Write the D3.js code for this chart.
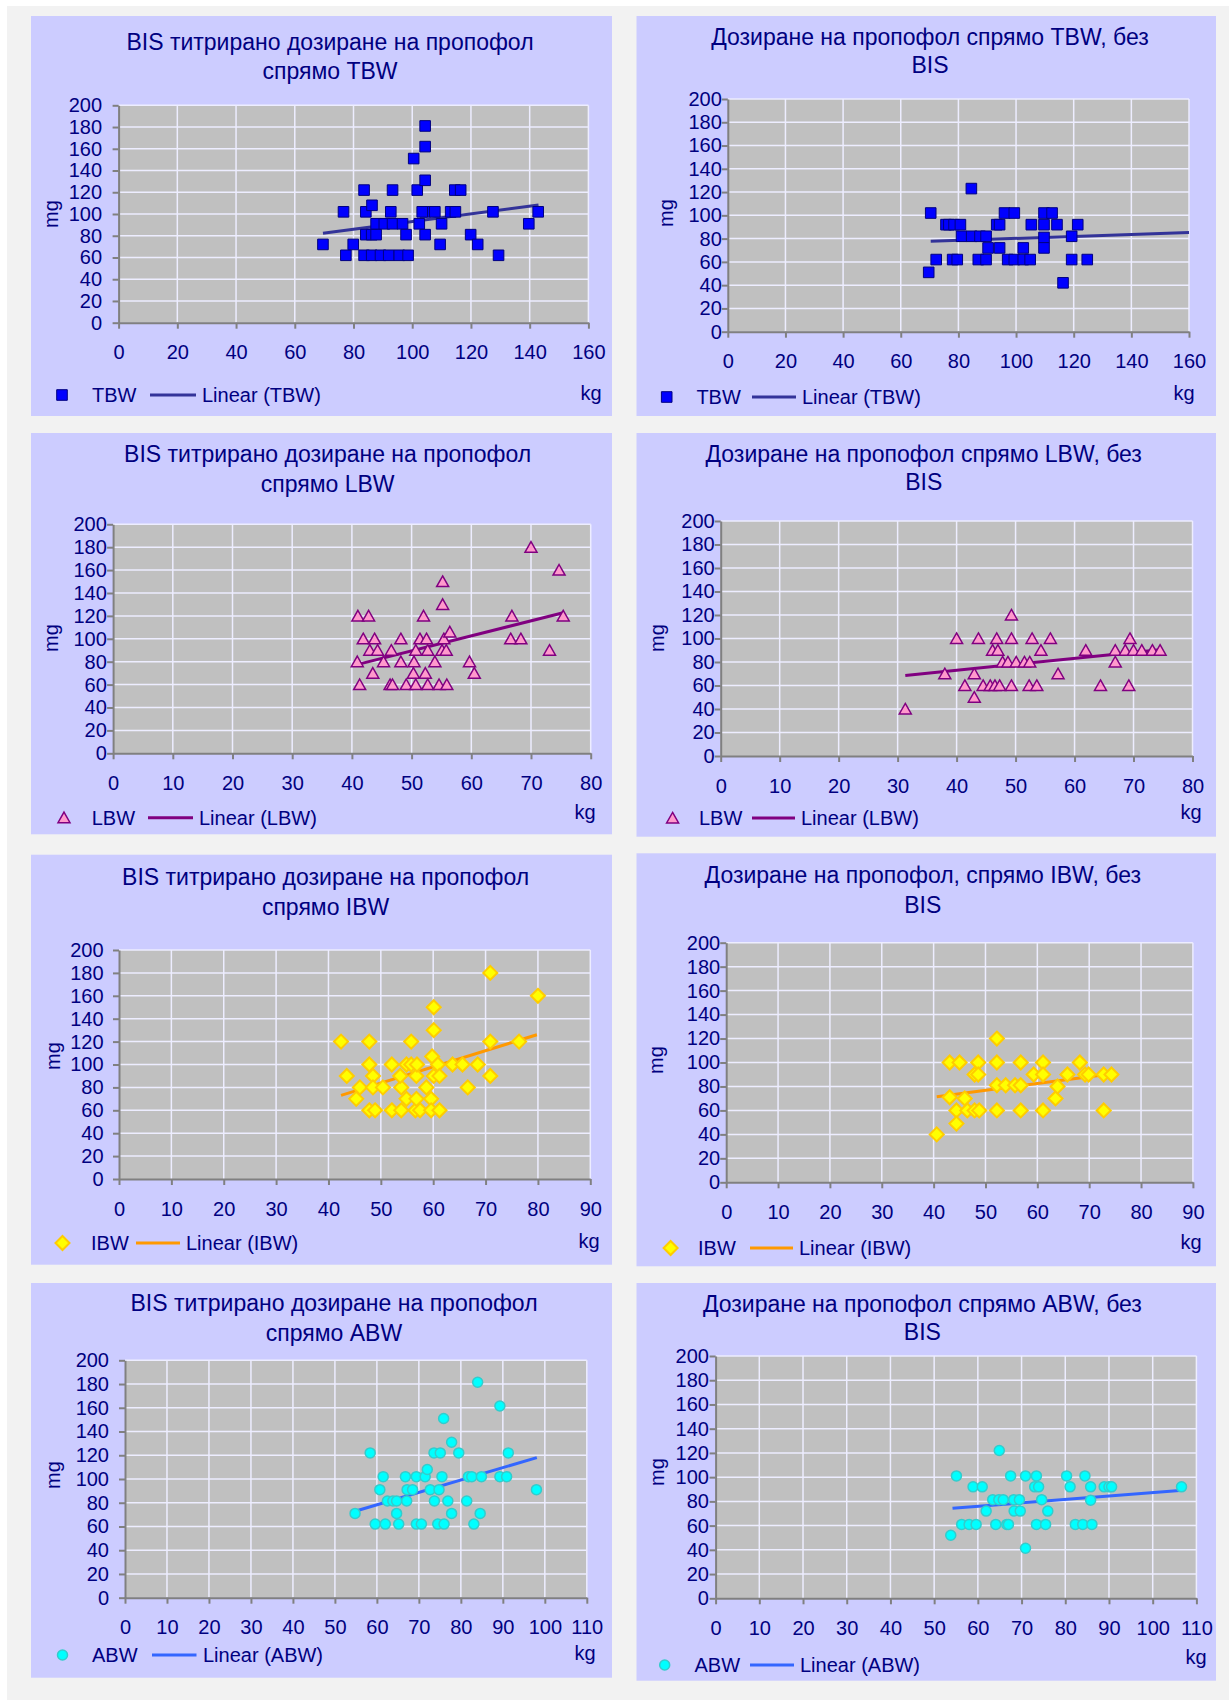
<!DOCTYPE html>
<html>
<head>
<meta charset="utf-8">
<script src="https://cdnjs.cloudflare.com/ajax/libs/d3/7.8.5/d3.min.js"></script>
<style>
  body { margin: 0; background: #ffffff; }
  svg text { font-family: "Liberation Sans", Arial, sans-serif; fill: #000080; }
</style>
</head>
<body>
<svg id="chart" width="1229" height="1700"></svg>
<script>
// ---- axis ticks ----
const doseTicks = [0, 20, 40, 60, 80, 100, 120, 140, 160, 180, 200];
const tbwTicks = [0, 20, 40, 60, 80, 100, 120, 140, 160];
const lbwTicks = [0, 10, 20, 30, 40, 50, 60, 70, 80];
const ibwTicks = [0, 10, 20, 30, 40, 50, 60, 70, 80, 90];
const abwTicks = [0, 10, 20, 30, 40, 50, 60, 70, 80, 90, 100, 110];

// ---- titles ----
const titlesBis = [
  ["BIS титрирано дозиране на пропофол", "спрямо TBW"],
  ["BIS титрирано дозиране на пропофол", "спрямо LBW"],
  ["BIS титрирано дозиране на пропофол", "спрямо IBW"],
  ["BIS титрирано дозиране на пропофол", "спрямо ABW"]
];
const titlesNoBis = [
  ["Дозиране на пропофол спрямо TBW, без", "BIS"],
  ["Дозиране на пропофол спрямо LBW, без", "BIS"],
  ["Дозиране на пропофол, спрямо IBW, без", "BIS"],
  ["Дозиране на пропофол спрямо ABW, без", "BIS"]
];
const seriesNames = ["TBW", "LBW", "IBW", "ABW"];

// ---- TBW, BIS titrated (kg, mg) ----
const tbwBisX = [69.6, 76.6, 77.4, 79.9, 83.6, 84.2, 83.6, 84.2, 86.2, 86.3, 87.7, 87.7, 86.2, 89.2, 90.5,
  92.0, 92.7, 93.3, 93.3, 95.6, 96.7, 97.9, 98.6, 100.5, 101.7, 102.4, 104.4, 104.4, 104.4, 104.4,
  103.4, 104.4, 107.7, 110.0, 109.5, 113.1, 114.7, 114.5, 116.5, 119.9, 122.3, 127.5, 129.4, 139.7, 142.9];
const tbwBisY = [72, 102, 62, 72, 122, 102, 62, 81, 81, 108, 81, 91, 62, 62, 91,
  62, 102, 122, 91, 62, 91, 81, 62, 151, 122, 91, 181, 162, 131, 102,
  102, 81, 102, 91, 72, 102, 102, 122, 122, 81, 72, 102, 62, 91, 102];
const tbwBisTrendX = [69.6, 143];
const tbwBisTrendY = [82.2, 108.3];

// ---- TBW, without BIS ----
const tbwNoBisX = [69.7, 70.4, 72.3, 75.7, 76.7, 78.0, 78.5, 79.6, 80.7, 81.1, 84.5, 84.6, 86.9, 87.5, 89.6,
  89.6, 90.3, 93.3, 94.3, 94.3, 96.0, 97.1, 99.4, 99.4, 102.5, 102.5, 104.9, 105.3, 109.7, 109.7,
  109.7, 109.7, 112.5, 114.2, 116.3, 119.3, 119.3, 121.4, 124.7];
const tbwNoBisY = [51, 102, 62, 92, 92, 62, 92, 62, 92, 82, 123, 82, 62, 82, 82,
  62, 72, 92, 92, 72, 102, 62, 102, 62, 72, 62, 62, 92, 102, 92,
  81, 72, 102, 92, 42, 82, 62, 92, 62];
const tbwNoBisTrendX = [70.4, 160];
const tbwNoBisTrendY = [77.7, 85.3];

// ---- LBW, BIS titrated ----
const lbwBisX = [41.0, 42.8, 40.9, 41.3, 41.9, 43.8, 43.0, 44.3, 43.5, 45.3, 46.6, 46.4, 46.8, 48.2, 48.2,
  49.1, 50.3, 50.4, 50.7, 50.7, 51.4, 52.0, 52.5, 52.3, 52.7, 52.7, 53.9, 54.6, 55.2, 55.2,
  55.4, 55.1, 55.8, 55.9, 56.4, 59.7, 60.5, 66.8, 66.6, 68.3, 70.0, 73.1, 74.7, 75.4];
const lbwBisY = [120, 120, 80, 60, 100, 100, 90, 90, 70, 80, 90, 60, 60, 100, 80,
  60, 70, 80, 90, 60, 100, 120, 100, 70, 90, 60, 80, 60, 150, 130,
  100, 90, 90, 60, 106, 80, 70, 120, 100, 100, 180, 90, 160, 120];
const lbwBisTrendX = [41.0, 75.4];
const lbwBisTrendY = [77.7, 122.8];

// ---- LBW, without BIS ----
const lbwNoBisX = [31.3, 38.0, 40.0, 41.4, 43.0, 43.0, 43.7, 44.5, 45.7, 46.1, 46.5, 46.8, 47.0, 47.3, 47.8,
  48.7, 49.3, 49.3, 49.3, 50.1, 51.5, 52.4, 52.3, 52.8, 53.6, 54.3, 55.9, 57.2, 61.9, 64.4,
  66.9, 66.9, 68.6, 69.2, 69.4, 70.0, 71.4, 73.2, 74.5];
const lbwNoBisY = [40, 70, 100, 60, 70, 50, 100, 60, 60, 90, 60, 100, 90, 60, 80,
  80, 120, 100, 60, 80, 80, 80, 60, 100, 60, 90, 100, 70, 90, 60,
  90, 80, 90, 60, 100, 90, 90, 90, 90];
const lbwNoBisTrendX = [31.3, 74.5];
const lbwNoBisTrendY = [68.5, 90.5];

// ---- IBW, BIS titrated ----
const ibwBisX = [42.4, 43.5, 45.3, 46.0, 47.8, 47.8, 47.8, 48.5, 48.5, 48.9, 50.4, 52.1, 52.1, 53.9, 53.9,
  53.7, 54.9, 54.9, 55.8, 55.8, 56.6, 56.8, 56.8, 56.9, 57.5, 58.7, 59.6, 59.6, 59.8, 60.1,
  60.1, 60.1, 60.9, 61.2, 61.2, 63.7, 65.6, 66.6, 68.5, 70.9, 70.9, 70.9, 76.4, 80.0];
const ibwBisY = [120, 90, 70, 80, 120, 100, 60, 90, 80, 60, 80, 100, 60, 80, 60,
  90, 100, 70, 120, 100, 60, 90, 70, 100, 60, 80, 70, 60, 107, 150,
  130, 90, 100, 90, 60, 100, 100, 80, 100, 180, 120, 90, 120, 160];
const ibwBisTrendX = [42.4, 79.8];
const ibwBisTrendY = [73, 126];

// ---- IBW, without BIS ----
const ibwNoBisX = [40.6, 43.1, 43.1, 44.4, 44.4, 45.0, 46.0, 46.5, 47.9, 47.9, 48.6, 48.6, 48.8, 52.2, 52.2,
  52.2, 52.2, 53.9, 55.7, 56.8, 56.8, 56.8, 59.3, 61.1, 61.1, 61.1, 63.5, 63.9, 65.8, 68.2,
  69.2, 69.9, 72.8, 72.8, 74.3];
const ibwNoBisY = [40, 100, 71, 60, 49, 100, 70, 60, 60, 90, 100, 90, 60, 120, 100,
  81, 60, 81, 81, 100, 81, 60, 90, 100, 90, 60, 70, 80, 90, 100,
  90, 90, 90, 60, 90];
const ibwNoBisTrendX = [40.6, 74.1];
const ibwNoBisTrendY = [71.5, 90.4];

// ---- ABW, BIS titrated ----
const abwBisX = [54.8, 58.4, 59.6, 60.7, 61.5, 62.0, 62.5, 63.8, 64.7, 64.7, 65.2, 66.8, 67.1, 67.2, 68.5,
  69.4, 69.4, 70.6, 71.5, 72.0, 72.7, 73.6, 73.7, 74.5, 74.8, 75.1, 75.5, 75.9, 76.0, 76.9,
  77.8, 77.8, 79.5, 81.4, 81.8, 82.6, 83.1, 84.0, 84.6, 84.9, 89.3, 89.3, 90.9, 91.3, 98.0];
const abwBisY = [71, 122, 62, 91, 102, 62, 81.5, 81.5, 81.5, 71, 62, 102, 81.5, 91, 91,
  102, 62, 62, 102, 108, 91, 122, 81.5, 62, 91, 122, 102, 151, 62, 81.5,
  131, 71, 122, 81.5, 102, 102, 62, 181.5, 71, 102, 161.5, 102, 102, 122, 91];
const abwBisTrendX = [55.0, 98.1];
const abwBisTrendY = [73, 118];

// ---- ABW, without BIS ----
const abwNoBisX = [53.8, 55.1, 56.3, 58.0, 58.9, 59.6, 61.0, 61.9, 63.4, 64.1, 64.8, 64.9, 65.8, 66.6, 67.0,
  67.5, 68.2, 68.3, 69.5, 69.7, 70.9, 70.9, 73.0, 73.4, 73.4, 73.9, 74.6, 75.5, 76.0, 80.3,
  81.1, 82.3, 84.0, 84.5, 85.8, 85.8, 86.1, 88.9, 90.0, 90.6, 106.6];
const abwNoBisY = [52, 101, 61, 61, 92, 61, 92, 72, 81.4, 61, 81.4, 122, 81.4, 61, 61,
  101, 81.4, 72, 81.4, 72, 101, 41.3, 92, 101, 61, 92, 81.4, 61, 72, 101,
  92, 61, 61, 101, 92, 81, 61, 92, 92, 92, 92];
const abwNoBisTrendX = [54.2, 106.9];
const abwNoBisTrendY = [74.3, 89.1];

// ---- marker / line styles per series ----
const styles = {
  TBW: { shape: "square",   fill: "#0000ff", stroke: "#000080", sw: 1,   line: "#333399" },
  LBW: { shape: "triangle", fill: "#ff99cc", stroke: "#800080", sw: 1.5, line: "#800080" },
  IBW: { shape: "diamond",  fill: "#ffff00", stroke: "#ffcc00", sw: 2,   line: "#ff9900" },
  ABW: { shape: "circle",   fill: "#00ffff", stroke: "#33cccc", sw: 1.5, line: "#3366ff" }
};
const shapePaths = {
  square: "M-5.3,-5.3H5.3V5.3H-5.3Z",
  triangle: "M0,-5.6L6,5L-6,5Z",
  diamond: "M0,-7L7,0L0,7L-7,0Z",
  circle: "M5,0A5,5 0 1,1 -5,0A5,5 0 1,1 5,0Z"
};

// ---- panel layout (pixels) ----
const panels = [
  { name: "TBW", title: titlesBis[0], xs: tbwBisX, ys: tbwBisY, tx: tbwBisTrendX, ty: tbwBisTrendY, xt: tbwTicks,
    box: [31, 16, 612, 416], plot: [118.6, 105.3, 588.4, 322.7], titleX: 330, titleY: [41.7, 71],
    yPad: 10.6, mg: [51.4, 214], legY: 395, leg: [62, 92, 150, 196, 202], kg: [591, 393] },
  { name: "TBW", title: titlesNoBis[0], xs: tbwNoBisX, ys: tbwNoBisY, tx: tbwNoBisTrendX, ty: tbwNoBisTrendY, xt: tbwTicks,
    box: [636.5, 16, 1216, 416], plot: [727.8, 99, 1189, 331.7], titleX: 930, titleY: [36.7, 65],
    yPad: 0, mg: [666, 213], legY: 397, leg: [666.7, 696.4, 752, 796, 802], kg: [1184, 393] },
  { name: "LBW", title: titlesBis[1], xs: lbwBisX, ys: lbwBisY, tx: lbwBisTrendX, ty: lbwBisTrendY, xt: lbwTicks,
    box: [31, 433, 612, 834.3], plot: [113.1, 524.3, 590.7, 753.3], titleX: 327.6, titleY: [454.3, 484.3],
    yPad: 0.3, mg: [51.4, 638], legY: 817.7, leg: [64, 91.7, 148, 193, 199], kg: [585, 812] },
  { name: "LBW", title: titlesNoBis[1], xs: lbwNoBisX, ys: lbwNoBisY, tx: lbwNoBisTrendX, ty: lbwNoBisTrendY, xt: lbwTicks,
    box: [636.5, 433, 1216, 836.7], plot: [720.7, 521, 1192.5, 756], titleX: 923.7, titleY: [454.3, 482.3],
    yPad: 0, mg: [656.6, 638], legY: 818, leg: [672.6, 699, 752, 795, 801], kg: [1191, 812] },
  { name: "IBW", title: titlesBis[2], xs: ibwBisX, ys: ibwBisY, tx: ibwBisTrendX, ty: ibwBisTrendY, xt: ibwTicks,
    box: [31, 854.7, 612, 1264.7], plot: [119, 950, 590.3, 1179], titleX: 325.6, titleY: [877.3, 907.3],
    yPad: 9.4, mg: [53.4, 1056], legY: 1243, leg: [62.5, 91, 136, 180, 186], kg: [589, 1241] },
  { name: "IBW", title: titlesNoBis[2], xs: ibwNoBisX, ys: ibwNoBisY, tx: ibwNoBisTrendX, ty: ibwNoBisTrendY, xt: ibwTicks,
    box: [636.5, 853.3, 1216, 1266.3], plot: [726.2, 942.7, 1192.9, 1182.3], titleX: 922.8, titleY: [875.3, 904.7],
    yPad: 0, mg: [656, 1060], legY: 1248, leg: [670.6, 698, 750, 793, 799], kg: [1191, 1242] },
  { name: "ABW", title: titlesBis[3], xs: abwBisX, ys: abwBisY, tx: abwBisTrendX, ty: abwBisTrendY, xt: abwTicks,
    box: [31, 1283, 612, 1677.7], plot: [125, 1360.3, 586.8, 1597.7], titleX: 334, titleY: [1303.3, 1333.3],
    yPad: 10, mg: [53.4, 1475], legY: 1655, leg: [62.5, 92, 152, 196.5, 203], kg: [585, 1653] },
  { name: "ABW", title: titlesNoBis[3], xs: abwNoBisX, ys: abwNoBisY, tx: abwNoBisTrendX, ty: abwNoBisTrendY, xt: abwTicks,
    box: [636.5, 1283, 1216, 1680.7], plot: [715.6, 1356, 1196.4, 1598.3], titleX: 922.4, titleY: [1304.3, 1332.3],
    yPad: 0.7, mg: [657.3, 1472], legY: 1665, leg: [664.7, 694.5, 750, 794, 800], kg: [1196, 1657] }
];

const svg = d3.select("#chart");

// page background
svg.append("rect").attr("x", 7).attr("y", 6).attr("width", 1222).attr("height", 1694).attr("fill", "#f2f2f2");

panels.forEach(p => {
  const st = styles[p.name];
  const g = svg.append("g");
  const [bx0, by0, bx1, by1] = p.box;
  const [px0, py0, px1, py1] = p.plot;

  g.append("rect").attr("x", bx0).attr("y", by0).attr("width", bx1 - bx0).attr("height", by1 - by0)
    .attr("fill", "#ccccff");

  const x = d3.scaleLinear().domain([0, d3.max(p.xt)]).range([px0, px1]);
  const y = d3.scaleLinear().domain([0, d3.max(doseTicks)]).range([py1, py0]);

  // plot area
  g.append("rect").attr("x", px0).attr("y", py0).attr("width", px1 - px0).attr("height", py1 - py0)
    .attr("fill", "#c0c0c0");

  // gridlines
  g.append("g").selectAll("line").data(p.xt.slice(1)).join("line")
    .attr("x1", d => x(d)).attr("x2", d => x(d)).attr("y1", py0).attr("y2", py1)
    .attr("stroke", "#ededff").attr("stroke-width", 1.5);
  g.append("g").selectAll("line").data(doseTicks.slice(1)).join("line")
    .attr("x1", px0).attr("x2", px1).attr("y1", d => y(d)).attr("y2", d => y(d))
    .attr("stroke", "#ededff").attr("stroke-width", 1.5);

  // axes
  const yAxis = g.append("g").attr("transform", `translate(${px0},0)`)
    .call(d3.axisLeft(y).tickValues(doseTicks).tickSize(6).tickSizeOuter(0).tickPadding(p.yPad));
  const xAxis = g.append("g").attr("transform", `translate(0,${py1})`)
    .call(d3.axisBottom(x).tickValues(p.xt).tickSize(6).tickSizeOuter(0).tickPadding(16.5));
  [yAxis, xAxis].forEach(a => {
    a.select(".domain").attr("stroke", "#808080").attr("stroke-width", 2);
    a.selectAll(".tick line").attr("stroke", "#808080").attr("stroke-width", 2);
    a.selectAll(".tick text").attr("fill", "#000080").style("font-size", "20px")
      .style("font-family", '"Liberation Sans", Arial, sans-serif');
  });

  // trend line
  const trend = p.tx.map((v, i) => [v, p.ty[i]]);
  g.append("path").datum(trend)
    .attr("d", d3.line().x(d => x(d[0])).y(d => y(d[1])))
    .attr("fill", "none").attr("stroke", st.line).attr("stroke-width", 3);

  // points
  const pts = p.xs.map((v, i) => [v, p.ys[i]]);
  g.append("g").selectAll("path").data(pts).join("path")
    .attr("transform", d => `translate(${x(d[0])},${y(d[1])})`)
    .attr("d", shapePaths[st.shape])
    .attr("fill", st.fill).attr("stroke", st.stroke).attr("stroke-width", st.sw);

  // title
  const t = g.append("text").attr("text-anchor", "middle").style("font-size", "23px");
  p.title.forEach((line, i) => {
    t.append("tspan").attr("x", p.titleX).attr("y", p.titleY[i]).attr("dominant-baseline", "central").text(line);
  });

  // axis titles
  g.append("text").attr("transform", `translate(${p.mg[0]},${p.mg[1]}) rotate(-90)`)
    .attr("text-anchor", "middle").attr("dominant-baseline", "central").style("font-size", "20px").text("mg");
  g.append("text").attr("x", p.kg[0]).attr("y", p.kg[1]).attr("text-anchor", "middle")
    .attr("dominant-baseline", "central").style("font-size", "20px").text("kg");

  // legend
  const [mx, tx0, lx0, lx1, ltx] = p.leg;
  g.append("path").attr("transform", `translate(${mx},${p.legY})`).attr("d", shapePaths[st.shape])
    .attr("fill", st.fill).attr("stroke", st.stroke).attr("stroke-width", st.sw);
  g.append("text").attr("x", tx0).attr("y", p.legY).attr("dominant-baseline", "central")
    .style("font-size", "20px").text(p.name);
  g.append("line").attr("x1", lx0).attr("x2", lx1).attr("y1", p.legY).attr("y2", p.legY)
    .attr("stroke", st.line).attr("stroke-width", 3);
  g.append("text").attr("x", ltx).attr("y", p.legY).attr("dominant-baseline", "central")
    .style("font-size", "20px").text(`Linear (${p.name})`);
});
</script>
</body>
</html>
